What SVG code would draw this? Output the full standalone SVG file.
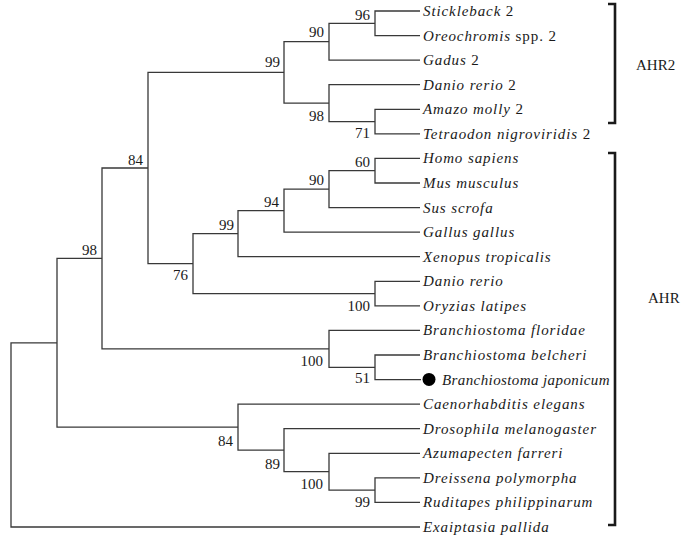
<svg xmlns="http://www.w3.org/2000/svg" width="700" height="542" viewBox="0 0 700 542">
<style>
.e{fill:none;stroke:#383838;stroke-width:1.3}
.lf{font-family:"Liberation Serif",serif;font-size:15px;font-style:italic;letter-spacing:0.9px;fill:#1a1a1a}
.up{font-style:normal}
.bs{font-family:"Liberation Serif",serif;font-size:15px;fill:#1a1a1a;text-anchor:end}
.cl{font-family:"Liberation Serif",serif;font-size:15px;fill:#1a1a1a}
.br{fill:none;stroke:#1a1a1a;stroke-width:2.6}
</style>
<rect width="700" height="542" fill="#fff"/>
<g id="connectors">
<path class="e" d="M420,11 H375 V35.6 H420"/>
<path class="e" d="M375,23.3 H329 V60.1 H420"/>
<path class="e" d="M420,109.3 H375 V133.9 H420"/>
<path class="e" d="M420,84.7 H329 V121.6 H375"/>
<path class="e" d="M329,41.7 H284 V103.2 H329"/>
<path class="e" d="M420,158.4 H375 V183 H420"/>
<path class="e" d="M375,170.7 H329 V207.6 H420"/>
<path class="e" d="M329,189.2 H284 V232.1 H420"/>
<path class="e" d="M284,210.6 H238 V256.7 H420"/>
<path class="e" d="M420,281.3 H375 V305.8 H420"/>
<path class="e" d="M238,233.7 H193 V293.6 H375"/>
<path class="e" d="M284,72.4 H148 V263.6 H193"/>
<path class="e" d="M420,355 H375 V379.6 H421"/>
<path class="e" d="M420,330.4 H329 V367.3 H375"/>
<path class="e" d="M148,168 H102 V348.8 H329"/>
<path class="e" d="M420,477.9 H375 V502.4 H420"/>
<path class="e" d="M420,453.3 H329 V490.1 H375"/>
<path class="e" d="M420,428.7 H284 V471.7 H329"/>
<path class="e" d="M420,404.1 H238 V450.2 H284"/>
<path class="e" d="M102,258.4 H57 V427.2 H238"/>
<path class="e" d="M57,342.8 H11 V527 H420"/>
</g>
<g id="leaves">
<g id="leaf-stickleback"><text class="lf" x="423" y="16">Stickleback <tspan class="up">2</tspan></text></g>
<g id="leaf-oreochromis"><text class="lf" x="423" y="40.6">Oreochromis <tspan class="up">spp. 2</tspan></text></g>
<g id="leaf-gadus"><text class="lf" x="423" y="65.1">Gadus <tspan class="up">2</tspan></text></g>
<g id="leaf-danio2"><text class="lf" x="423" y="89.7">Danio rerio <tspan class="up">2</tspan></text></g>
<g id="leaf-amazo"><text class="lf" x="423" y="114.3">Amazo molly <tspan class="up">2</tspan></text></g>
<g id="leaf-tetraodon"><text class="lf" x="423" y="138.9">Tetraodon nigroviridis <tspan class="up">2</tspan></text></g>
<g id="leaf-homo"><text class="lf" x="423" y="163.4">Homo sapiens</text></g>
<g id="leaf-mus"><text class="lf" x="423" y="188">Mus musculus</text></g>
<g id="leaf-sus"><text class="lf" x="423" y="212.6">Sus scrofa</text></g>
<g id="leaf-gallus"><text class="lf" x="423" y="237.1">Gallus gallus</text></g>
<g id="leaf-xenopus"><text class="lf" x="423" y="261.7">Xenopus tropicalis</text></g>
<g id="leaf-danio"><text class="lf" x="423" y="286.3">Danio rerio</text></g>
<g id="leaf-oryzias"><text class="lf" x="423" y="310.8">Oryzias latipes</text></g>
<g id="leaf-bfloridae"><text class="lf" x="423" y="335.4">Branchiostoma floridae</text></g>
<g id="leaf-bbelcheri"><text class="lf" x="423" y="360">Branchiostoma belcheri</text></g>
<g id="leaf-bjaponicum"><circle cx="429" cy="379.4" r="6.5" fill="#000"/><text class="lf" x="442" y="384.6" style="letter-spacing:0.4px">Branchiostoma japonicum</text></g>
<g id="leaf-caenorhabditis"><text class="lf" x="423" y="409.1">Caenorhabditis elegans</text></g>
<g id="leaf-drosophila"><text class="lf" x="423" y="433.7">Drosophila melanogaster</text></g>
<g id="leaf-azumapecten"><text class="lf" x="423" y="458.3">Azumapecten farreri</text></g>
<g id="leaf-dreissena"><text class="lf" x="423" y="482.9">Dreissena polymorpha</text></g>
<g id="leaf-ruditapes"><text class="lf" x="423" y="507.4">Ruditapes philippinarum</text></g>
<g id="leaf-exaiptasia"><text class="lf" x="423" y="532">Exaiptasia pallida</text></g>
</g>
<g id="bootstrap">
<g id="n96"><text class="bs" x="370" y="20">96</text></g>
<g id="n90a"><text class="bs" x="324" y="37">90</text></g>
<g id="n99a"><text class="bs" x="280" y="67">99</text></g>
<g id="n98a"><text class="bs" x="324" y="121">98</text></g>
<g id="n71"><text class="bs" x="370" y="138">71</text></g>
<g id="n84a"><text class="bs" x="143" y="165">84</text></g>
<g id="n60"><text class="bs" x="370" y="167">60</text></g>
<g id="n90b"><text class="bs" x="324" y="185">90</text></g>
<g id="n94"><text class="bs" x="279" y="207">94</text></g>
<g id="n99b"><text class="bs" x="234" y="230">99</text></g>
<g id="n76"><text class="bs" x="188" y="280">76</text></g>
<g id="n100a"><text class="bs" x="370" y="311">100</text></g>
<g id="n98b"><text class="bs" x="97" y="255">98</text></g>
<g id="n100b"><text class="bs" x="323" y="366">100</text></g>
<g id="n51"><text class="bs" x="370" y="383">51</text></g>
<g id="n84b"><text class="bs" x="233" y="446">84</text></g>
<g id="n89"><text class="bs" x="280" y="469">89</text></g>
<g id="n100c"><text class="bs" x="323" y="489">100</text></g>
<g id="n99c"><text class="bs" x="370" y="507">99</text></g>
</g>
<g id="clade-ahr2"><path class="br" d="M608,4 H615 V123 H608"/><text class="cl" x="636" y="70">AHR2</text></g>
<g id="clade-ahr"><path class="br" d="M608,153 H615 V525 H608"/><text class="cl" x="648" y="303">AHR</text></g>
</svg>
